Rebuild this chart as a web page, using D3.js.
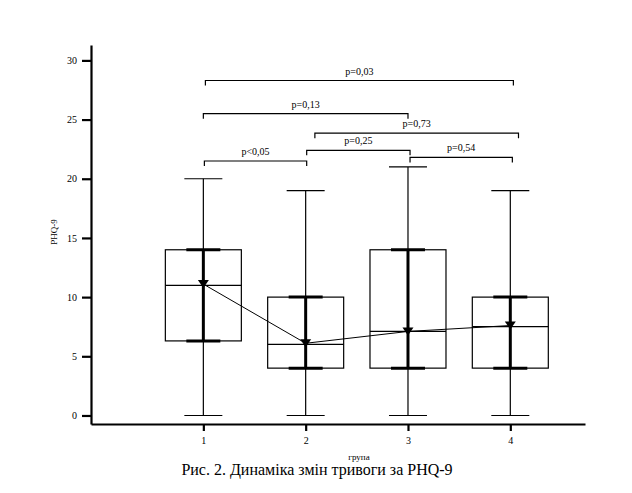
<!DOCTYPE html>
<html>
<head>
<meta charset="utf-8">
<script src="https://cdn.jsdelivr.net/npm/d3@7"></script>
<style>
  body { margin: 0; background: #fff; }
  text { font-family: "Liberation Serif", "Times New Roman", serif; fill: #000; }
</style>
</head>
<body>
<svg id="chart" width="632" height="493"></svg>
<script>
// groups and box statistics
var groups = [1, 2, 3, 4];
var whiskerLow = [0, 0, 0, 0];
var q1 = [6.3, 4, 4, 4];
var median = [11, 6, 7.1, 7.5];
var q3 = [14, 10, 14, 10];
var whiskerHigh = [20, 19, 21, 19];
var means = [11.1, 6.1, 7.1, 7.6];
var yTicks = [0, 5, 10, 15, 20, 25, 30];

// significance brackets: from group, to group, level, label
var bracketFrom = [1.02, 1, 2.09, 1.01, 2.01, 3.02];
var bracketTo = [4.03, 3, 4.08, 2.01, 3.02, 4.02];
var bracketLevel = [28.3, 25.5, 23.85, 21.5, 22.4, 21.8];
var bracketLabel = ["p=0,03", "p=0,13", "p=0,73", "p<0,05", "p=0,25", "p=0,54"];

window.onload = function() {
    var svg = d3.select("#chart");

    var x = d3.scaleLinear().domain([-0.098, 4.73]).range([91, 585]);
    var y = d3.scaleLinear().domain([-0.72, 31.3]).range([424, 45]);

    // axes
    var yAxis = svg.append("g")
        .attr("transform", "translate(91,0)")
        .call(d3.axisLeft(y).tickValues(yTicks).tickSize(9).tickSizeOuter(0).tickPadding(5));
    var xAxis = svg.append("g")
        .attr("transform", "translate(0,424)")
        .call(d3.axisBottom(x).tickValues(groups).tickSize(7).tickSizeOuter(0).tickPadding(6).tickFormat(d3.format("d")));
    [yAxis, xAxis].forEach(function(a) {
        a.select(".domain").attr("stroke-width", 2.2).attr("stroke", "#000");
        a.selectAll(".tick line").attr("stroke-width", 2.2).attr("stroke", "#000");
        a.selectAll("text").style("font-family", "Liberation Serif").style("font-size", "10px");
    });

    var stats = groups.map(function(g, i) {
        return {g: g, lo: whiskerLow[i], q1: q1[i], med: median[i], q3: q3[i], hi: whiskerHigh[i], mean: means[i]};
    });

    var boxW = 76, capW = 38, thickCapW = 34;
    var box = svg.selectAll(".box").data(stats)
        .enter().append("g")
        .attr("class", "box")
        .attr("transform", function(d) { return "translate(" + x(d.g) + ",0)"; });

    // whisker
    box.append("line")
        .attr("y1", function(d) { return y(d.lo); })
        .attr("y2", function(d) { return y(d.hi); })
        .attr("stroke", "#000").attr("stroke-width", 1.2);
    box.append("line")
        .attr("x1", -capW / 2).attr("x2", capW / 2)
        .attr("y1", function(d) { return y(d.hi); })
        .attr("y2", function(d) { return y(d.hi); })
        .attr("stroke", "#000").attr("stroke-width", 1.2);
    box.append("line")
        .attr("x1", -capW / 2).attr("x2", capW / 2)
        .attr("y1", function(d) { return y(d.lo); })
        .attr("y2", function(d) { return y(d.lo); })
        .attr("stroke", "#000").attr("stroke-width", 1.2);

    // box
    box.append("rect")
        .attr("x", -boxW / 2)
        .attr("width", boxW)
        .attr("y", function(d) { return y(d.q3); })
        .attr("height", function(d) { return y(d.q1) - y(d.q3); })
        .attr("fill", "#fff")
        .attr("stroke", "#000").attr("stroke-width", 1.2);
    box.append("line")
        .attr("x1", -boxW / 2).attr("x2", boxW / 2)
        .attr("y1", function(d) { return y(d.med); })
        .attr("y2", function(d) { return y(d.med); })
        .attr("stroke", "#000").attr("stroke-width", 1.2);

    // thick bar between quartiles
    box.append("line")
        .attr("y1", function(d) { return y(d.q1); })
        .attr("y2", function(d) { return y(d.q3); })
        .attr("stroke", "#000").attr("stroke-width", 3);
    box.append("line")
        .attr("x1", -thickCapW / 2).attr("x2", thickCapW / 2)
        .attr("y1", function(d) { return y(d.q3); })
        .attr("y2", function(d) { return y(d.q3); })
        .attr("stroke", "#000").attr("stroke-width", 3);
    box.append("line")
        .attr("x1", -thickCapW / 2).attr("x2", thickCapW / 2)
        .attr("y1", function(d) { return y(d.q1); })
        .attr("y2", function(d) { return y(d.q1); })
        .attr("stroke", "#000").attr("stroke-width", 3);

    // mean line and markers
    var meanLine = d3.line()
        .x(function(d) { return x(d.g); })
        .y(function(d) { return y(d.mean); });
    svg.append("path")
        .datum(stats)
        .attr("d", meanLine)
        .attr("fill", "none")
        .attr("stroke", "#000").attr("stroke-width", 1);
    svg.selectAll(".mean").data(stats)
        .enter().append("path")
        .attr("class", "mean")
        .attr("transform", function(d) { return "translate(" + x(d.g) + "," + y(d.mean) + ")"; })
        .attr("d", "M-5.5,-4L5.5,-4L0,4Z")
        .attr("fill", "#000");

    // brackets
    var brackets = bracketLabel.map(function(l, i) {
        return {a: bracketFrom[i], b: bracketTo[i], lev: bracketLevel[i], label: l};
    });
    var br = svg.selectAll(".bracket").data(brackets)
        .enter().append("g").attr("class", "bracket");
    br.append("path")
        .attr("d", function(d) {
            var yy = y(d.lev);
            return "M" + x(d.a) + "," + (yy + 5) + "V" + yy + "H" + x(d.b) + "V" + (yy + 5);
        })
        .attr("fill", "none")
        .attr("stroke", "#000").attr("stroke-width", 1.2);
    br.append("text")
        .attr("x", function(d) { return (x(d.a) + x(d.b)) / 2; })
        .attr("y", function(d) { return y(d.lev) - 6; })
        .attr("text-anchor", "middle")
        .style("font-size", "10px")
        .text(function(d) { return d.label; });

    // labels
    svg.append("text")
        .attr("transform", "translate(57,232) rotate(-90)")
        .attr("text-anchor", "middle")
        .style("font-size", "9px")
        .text("PHQ-9");
    svg.append("text")
        .attr("x", 359).attr("y", 460)
        .attr("text-anchor", "middle")
        .style("font-size", "9px")
        .text("група");
    svg.append("text")
        .attr("x", 317).attr("y", 475)
        .attr("text-anchor", "middle")
        .style("font-size", "16px")
        .text("Рис. 2. Динаміка змін тривоги за PHQ-9");
};
</script>
</body>
</html>
